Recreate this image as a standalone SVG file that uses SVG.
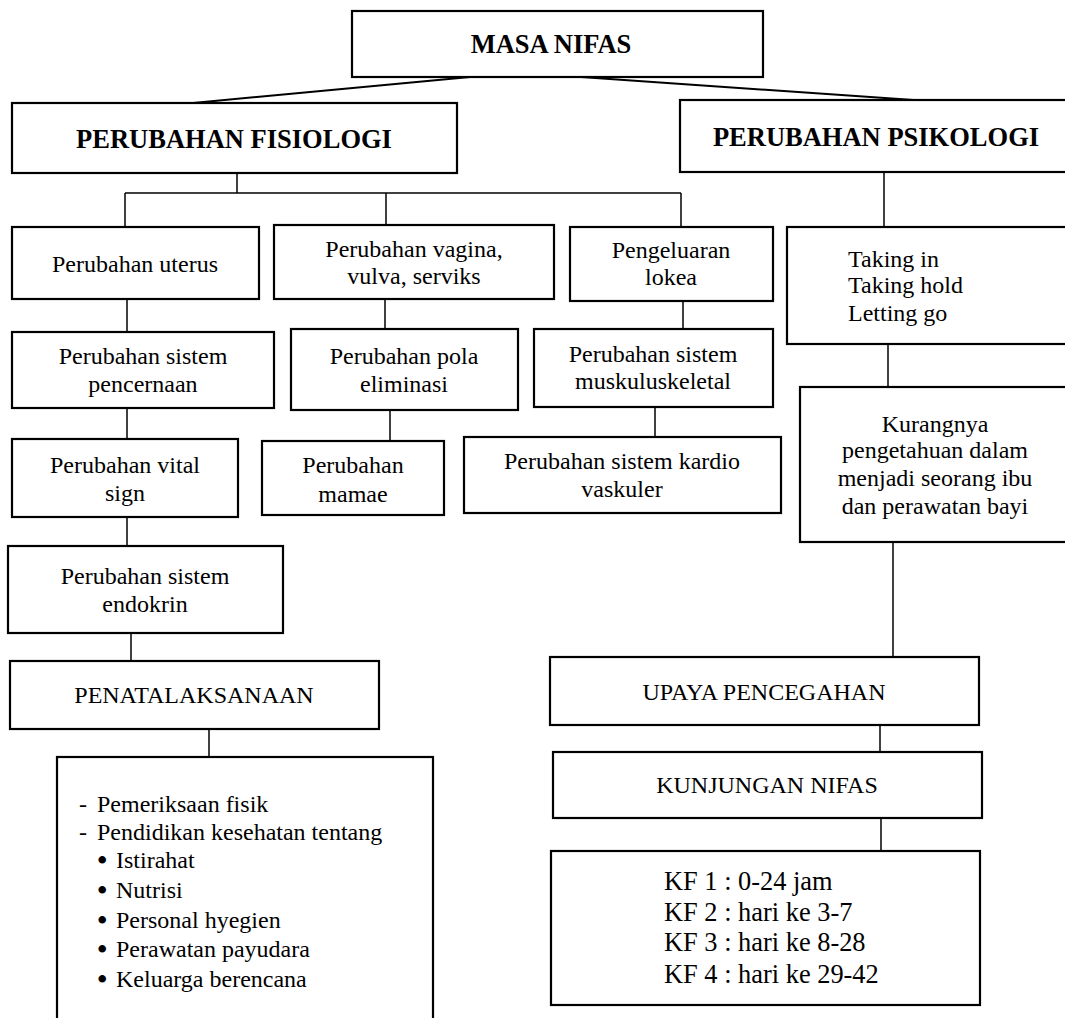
<svg xmlns="http://www.w3.org/2000/svg" width="1065" height="1018" viewBox="0 0 1065 1018">
<style>
.box{fill:#fff;stroke:#000;stroke-width:2.2}
.t{font-family:"Liberation Serif","Times New Roman",serif;font-size:24px;fill:#000}
.c{text-anchor:middle}
.b{font-weight:bold;font-size:26.5px}
.kf{font-size:26.4px}
.bul{stroke:#000;stroke-width:1.8}
.conn line{stroke:#000;stroke-width:1.5}
</style>
<rect width="1065" height="1018" fill="#fff"/>
<g class="conn">
<line x1="470" y1="77" x2="193" y2="103" style="stroke-width:2"/>
<line x1="581" y1="77" x2="928" y2="101" style="stroke-width:2"/>
<line x1="237" y1="173" x2="237" y2="193"/>
<line x1="125" y1="193" x2="681" y2="193"/>
<line x1="125" y1="193" x2="125" y2="227"/>
<line x1="386" y1="193" x2="386" y2="225"/>
<line x1="681" y1="193" x2="681" y2="227"/>
<line x1="884" y1="172" x2="884" y2="227"/>
<line x1="127" y1="299" x2="127" y2="332"/>
<line x1="385" y1="299" x2="385" y2="329"/>
<line x1="683" y1="301" x2="683" y2="329"/>
<line x1="127" y1="408" x2="127" y2="439"/>
<line x1="390" y1="410" x2="390" y2="441"/>
<line x1="655" y1="407" x2="655" y2="437"/>
<line x1="127" y1="517" x2="127" y2="546"/>
<line x1="131" y1="633" x2="131" y2="661"/>
<line x1="209" y1="729" x2="209" y2="757"/>
<line x1="888" y1="344" x2="888" y2="387"/>
<line x1="893" y1="542" x2="893" y2="657"/>
<line x1="880" y1="725" x2="880" y2="752"/>
<line x1="881" y1="818" x2="881" y2="851"/>
</g>
<g id="masa-nifas"><rect class="box" x="352" y="11" width="411" height="66"/><text class="t b c" x="551" y="53">MASA NIFAS</text></g>
<g id="fisiologi"><rect class="box" x="12" y="103" width="445" height="70"/><text class="t b c" x="234" y="148">PERUBAHAN FISIOLOGI</text></g>
<g id="psikologi"><rect class="box" x="680" y="100" width="395" height="72"/><text class="t b c" x="876" y="146">PERUBAHAN PSIKOLOGI</text></g>
<g id="uterus"><rect class="box" x="12" y="227" width="247" height="72"/><text class="t c" x="135" y="272">Perubahan uterus</text></g>
<g id="vagina"><rect class="box" x="274" y="225" width="280" height="74"/><text class="t c" x="414" y="257">Perubahan vagina,</text><text class="t c" x="414" y="284">vulva, serviks</text></g>
<g id="lokea"><rect class="box" x="570" y="227" width="203" height="74"/><text class="t c" x="671" y="258">Pengeluaran</text><text class="t c" x="671" y="285">lokea</text></g>
<g id="pencernaan"><rect class="box" x="12" y="332" width="262" height="76"/><text class="t c" x="143" y="364">Perubahan sistem</text><text class="t c" x="143" y="392">pencernaan</text></g>
<g id="pola"><rect class="box" x="291" y="329" width="227" height="81"/><text class="t c" x="404" y="364">Perubahan pola</text><text class="t c" x="404" y="392">eliminasi</text></g>
<g id="muskulo"><rect class="box" x="534" y="329" width="239" height="78"/><text class="t c" x="653" y="362">Perubahan sistem</text><text class="t c" x="653" y="389">muskuluskeletal</text></g>
<g id="vital"><rect class="box" x="12" y="439" width="226" height="78"/><text class="t c" x="125" y="473">Perubahan vital</text><text class="t c" x="125" y="501">sign</text></g>
<g id="mamae"><rect class="box" x="262" y="441" width="182" height="74"/><text class="t c" x="353" y="473">Perubahan</text><text class="t c" x="353" y="502">mamae</text></g>
<g id="kardio"><rect class="box" x="464" y="437" width="317" height="76"/><text class="t c" x="622" y="469">Perubahan sistem kardio</text><text class="t c" x="622" y="497">vaskuler</text></g>
<g id="endokrin"><rect class="box" x="8" y="546" width="275" height="87"/><text class="t c" x="145" y="584">Perubahan sistem</text><text class="t c" x="145" y="612">endokrin</text></g>
<g id="penatalaksanaan"><rect class="box" x="10" y="661" width="369" height="68"/><text class="t c" x="194" y="703">PENATALAKSANAAN</text></g>
<g id="list"><rect class="box" x="57" y="757" width="376" height="280"/>
<text class="t" x="79" y="812">-<tspan x="97">Pemeriksaan fisik</tspan></text>
<text class="t" x="79" y="840">-<tspan x="97">Pendidikan kesehatan tentang</tspan></text>
<text class="t" x="98" y="868"><tspan class="bul">•</tspan><tspan x="116">Istirahat</tspan></text>
<text class="t" x="98" y="898"><tspan class="bul">•</tspan><tspan x="116">Nutrisi</tspan></text>
<text class="t" x="98" y="928"><tspan class="bul">•</tspan><tspan x="116">Personal hyegien</tspan></text>
<text class="t" x="98" y="957"><tspan class="bul">•</tspan><tspan x="116">Perawatan payudara</tspan></text>
<text class="t" x="98" y="987"><tspan class="bul">•</tspan><tspan x="116">Keluarga berencana</tspan></text>
</g>
<g id="taking"><rect class="box" x="787" y="227" width="290" height="117"/><text class="t" x="848" y="267">Taking in</text><text class="t" x="848" y="293">Taking hold</text><text class="t" x="848" y="321">Letting go</text></g>
<g id="kurangnya"><rect class="box" x="800" y="387" width="277" height="155"/><text class="t c" x="935" y="432">Kurangnya</text><text class="t c" x="935" y="458">pengetahuan dalam</text><text class="t c" x="935" y="486">menjadi seorang ibu</text><text class="t c" x="935" y="514">dan perawatan bayi</text></g>
<g id="upaya"><rect class="box" x="550" y="657" width="429" height="68"/><text class="t c" x="764" y="700">UPAYA PENCEGAHAN</text></g>
<g id="kunjungan"><rect class="box" x="553" y="752" width="429" height="66"/><text class="t c" x="767" y="793">KUNJUNGAN NIFAS</text></g>
<g id="kf"><rect class="box" x="551" y="851" width="429" height="154"/><text class="t kf" x="664" y="890">KF 1 : 0-24 jam</text><text class="t kf" x="664" y="921">KF 2 : hari ke 3-7</text><text class="t kf" x="664" y="951">KF 3 : hari ke 8-28</text><text class="t kf" x="664" y="983">KF 4 : hari ke 29-42</text></g>
</svg>
